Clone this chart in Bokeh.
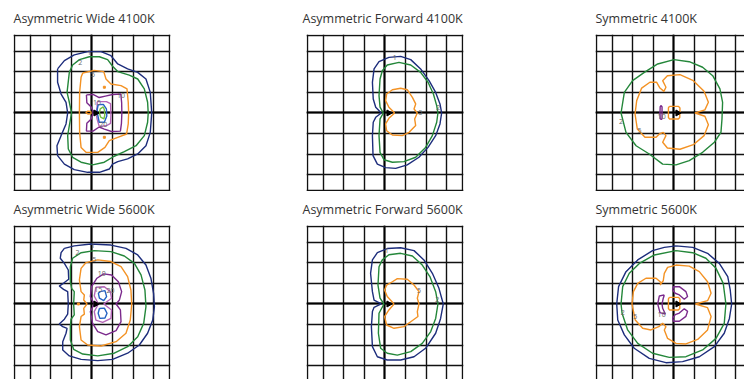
import math
from bokeh.plotting import figure
from bokeh.models import Grid, FixedTicker, Range1d, ColumnDataSource
from bokeh.layouts import column, row
from bokeh.embed import file_html
from bokeh.resources import INLINE
from bokeh.core.properties import value

# ---------------- data (grid-cell units, luminaire at origin) ----------------
TITLES = ["Asymmetric Wide 4100K", "Asymmetric Forward 4100K", "Symmetric 4100K",
          "Asymmetric Wide 5600K", "Asymmetric Forward 5600K", "Symmetric 5600K"]

GRID_TICKS = [-3.75, -3, -2, -1, 0, 1, 2, 3, 3.75]
ARROW_X = [0.18]
ARROW_Y = [0.0]

# Panel 1: Asymmetric Wide 4100K
AW41_L1 = [(-1.67, 2.14), (-1.34, 2.54), (-0.86, 2.82), (-0.21, 2.98), (0.44, 2.98), (0.92, 2.78), (1.25, 2.38),
           (1.73, 2.14), (2.22, 1.97), (2.62, 1.65), (2.83, 1.00), (2.90, 0.0), (2.83, -0.94), (2.62, -1.59),
           (2.22, -1.99), (1.73, -2.23), (1.25, -2.36), (1.00, -2.48), (0.84, -2.72), (0.36, -2.88), (-0.21, -2.88),
           (-0.86, -2.75), (-1.34, -2.48), (-1.67, -2.07), (-1.70, -1.59), (-1.50, -1.10), (-1.26, -0.53),
           (-1.18, 0.0), (-1.26, 0.52), (-1.50, 0.92), (-1.67, 1.49)]
AW41_L2 = [(-1.10, 1.97), (-1.21, 1.00), (-1.10, 0.52), (-0.99, 0.0), (-1.10, -0.61), (-1.18, -1.10), (-1.15, -1.75),
           (-0.94, -2.15), (-0.53, -2.39), (0.03, -2.52), (0.60, -2.39), (1.08, -2.10), (1.57, -1.88), (2.14, -1.59),
           (2.54, -1.10), (2.70, -0.45), (2.73, 0.0), (2.70, 0.52), (2.54, 1.17), (2.22, 1.65), (1.81, 1.84),
           (1.25, 2.01), (1.00, 2.27), (0.76, 2.59), (0.36, 2.73), (-0.13, 2.73), (-0.61, 2.59), (-0.94, 2.33)]
AW41_L5 = [(-0.45, 1.94), (0.11, 2.07), (0.57, 2.01), (0.68, 1.65), (0.92, 1.41), (1.41, 1.33), (1.70, 1.17),
           (1.76, 0.52), (1.78, 0.0), (1.76, -0.53), (1.68, -1.02), (1.25, -1.18), (0.84, -1.34), (0.63, -1.67),
           (0.28, -1.91), (-0.29, -1.91), (-0.53, -1.67), (-0.60, -0.94), (-0.61, 0.0), (-0.60, 1.00), (-0.53, 1.73)]
AW41_L5B = [(-0.05, 0.07), (-0.20, 0.09), (-0.30, 0.02), (-0.20, -0.05), (-0.05, -0.04)]
AW41_L10 = [(-0.27, 0.88), (0.05, 0.90), (0.35, 0.75), (0.65, 0.82), (1.00, 0.90), (1.40, 0.92), (1.44, 0.50),
            (1.45, 0.0), (1.43, -0.50), (1.38, -0.88), (0.95, -0.90), (0.60, -0.78), (0.35, -0.68), (0.05, -0.88),
            (-0.27, -0.88), (-0.25, -0.50), (-0.05, -0.30), (0.05, -0.05), (0.05, 0.10), (-0.05, 0.30), (-0.25, 0.50)]
AW41_L15 = [(0.25, 0.55), (0.70, 0.55), (0.90, 0.45), (0.92, -0.10), (0.90, -0.50), (0.70, -0.62), (0.35, -0.65),
            (0.25, -0.30), (0.20, 0.0), (0.25, 0.30)]
AW41_L20 = [(0.30, 0.40), (0.55, 0.42), (0.70, 0.20), (0.72, -0.15), (0.60, -0.45), (0.35, -0.45), (0.28, -0.10),
            (0.25, 0.15)]
AW41_L30 = [(0.55, 0.30), (0.40, 0.20), (0.36, 0.0), (0.42, -0.20), (0.58, -0.28), (0.62, -0.10), (0.60, 0.15)]
AW41_DOTS_X = [0.60, 0.60]
AW41_DOTS_Y = [1.25, -1.18]
AW41_LABELS = [("1", -0.13, 2.95), ("2", -0.57, 2.46), ("5", 0.05, 1.89), ("10", 1.41, 0.84),
               ("15", 0.24, 0.51), ("20", 0.55, -0.57)]

# Panel 2: Asymmetric Forward 4100K
AF41_L1 = [(-0.18, 0.0), (-0.45, 0.28), (-0.57, 0.68), (-0.61, 1.49), (-0.53, 2.14), (-0.29, 2.49), (0.19, 2.70),
           (0.76, 2.75), (1.25, 2.59), (1.73, 2.14), (2.14, 1.57), (2.46, 1.00), (2.67, 0.44), (2.75, 0.0),
           (2.67, -0.53), (2.46, -1.10), (2.09, -1.67), (1.65, -2.15), (1.08, -2.52), (0.52, -2.69), (0.03, -2.65),
           (-0.37, -2.48), (-0.58, -2.07), (-0.61, -1.10), (-0.57, -0.45), (-0.45, -0.21)]
AF41_L2 = [(-0.08, 0.0), (-0.24, 0.28), (-0.29, 0.84), (-0.24, 1.65), (-0.13, 2.05), (0.11, 2.33), (0.68, 2.46),
           (1.25, 2.33), (1.73, 1.97), (2.09, 1.49), (2.35, 0.92), (2.51, 0.36), (2.57, 0.0), (2.51, -0.45),
           (2.30, -1.10), (1.97, -1.67), (1.49, -2.15), (0.92, -2.36), (0.36, -2.39), (-0.05, -2.27),
           (-0.24, -1.91), (-0.29, -1.10), (-0.24, -0.29)]
AF41_L5 = [(0.47, 0.0), (0.19, 0.28), (0.03, 0.60), (0.08, 0.92), (0.36, 1.13), (0.76, 1.20), (1.08, 1.13),
           (1.33, 0.76), (1.49, 0.44), (1.41, 0.19), (1.57, 0.0), (1.44, -0.29), (1.49, -0.61), (1.17, -0.94),
           (0.84, -1.10), (0.36, -1.07), (0.08, -0.86), (0.03, -0.53), (0.19, -0.26)]
AF41_LABELS = [("1", 0.47, 2.70), ("2", 2.59, 0.28), ("5", 1.73, 0.0)]

# Panel 3: Symmetric 4100K
S41_L2 = [(0.0, 2.59), (0.74, 2.49), (1.39, 2.22), (1.88, 1.81), (2.23, 1.17), (2.36, 0.52), (2.33, -0.29),
          (2.28, -0.94), (1.96, -1.42), (1.39, -1.91), (0.74, -2.31), (0.10, -2.52), (-0.55, -2.48), (-1.20, -1.99),
          (-1.84, -1.59), (-2.33, -0.94), (-2.57, 0.0), (-2.41, 1.00), (-2.01, 1.57), (-1.44, 1.97), (-0.79, 2.38)]
S41_L5 = [(-1.89, -0.05), (-1.81, 0.60), (-1.57, 1.21), (-1.17, 1.49), (-0.84, 1.49), (-0.68, 1.21), (-0.49, 1.05),
          (-0.39, 1.25), (-0.55, 1.57), (-0.32, 1.81), (0.29, 1.86), (0.94, 1.57), (1.46, 1.05), (1.67, 0.52),
          (1.50, 0.15), (1.02, 0.0), (1.50, -0.16), (1.67, -0.57), (1.46, -1.10), (0.94, -1.54), (0.29, -1.76),
          (-0.32, -1.70), (-0.55, -1.42), (-0.39, -1.10), (-0.52, -0.94), (-0.71, -1.02), (-0.87, -1.18),
          (-1.41, -1.18), (-1.78, -0.78)]
S41_L5B = [(-0.22, 0.32), (0.22, 0.32), (0.29, 0.24), (0.28, -0.22), (0.21, -0.29), (-0.22, -0.29), (-0.27, -0.22),
           (-0.27, 0.25)]
S41_L10 = [(-0.62, 0.36), (-0.67, 0.30), (-0.68, 0.0), (-0.67, -0.28), (-0.62, -0.32), (-0.58, -0.28), (-0.58, 0.30)]
S41_LABELS = [("2", -2.57, -0.42), ("5", -1.68, -0.86), ("10", -0.60, -0.18)]

# Panel 4: Asymmetric Wide 5600K
AW56_L1 = [(-1.34, 2.70), (-0.86, 2.82), (-0.05, 2.91), (0.92, 2.86), (1.65, 2.70), (2.22, 2.38), (2.62, 1.89),
           (2.86, 1.25), (2.99, 0.52), (3.03, -0.13), (2.95, -0.78), (2.70, -1.42), (2.30, -1.99), (1.73, -2.39),
           (1.00, -2.69), (0.28, -2.75), (-0.53, -2.69), (-1.10, -2.52), (-1.42, -2.23), (-1.42, -1.83),
           (-1.26, -1.42), (-1.21, -1.18), (-1.42, -1.10), (-1.59, -0.97), (-1.34, -0.74), (-1.18, -0.49),
           (-1.15, 0.0), (-1.18, 0.60), (-1.38, 0.71), (-1.59, 0.87), (-1.34, 1.04), (-1.13, 1.20), (-1.15, 1.65),
           (-1.34, 1.97), (-1.54, 2.22), (-1.50, 2.49)]
AW56_L2 = [(-0.53, 2.49), (0.11, 2.59), (0.92, 2.54), (1.57, 2.33), (2.06, 1.97), (2.38, 1.41), (2.57, 0.68),
           (2.62, -0.13), (2.51, -0.94), (2.22, -1.59), (1.73, -2.07), (1.08, -2.39), (0.28, -2.52), (-0.45, -2.43),
           (-0.89, -2.20), (-1.05, -1.75), (-1.05, -1.10), (-1.02, -0.74), (-0.86, -0.53), (-0.89, 0.0),
           (-0.86, 0.60), (-0.99, 0.76), (-1.05, 1.08), (-1.05, 1.81), (-0.94, 2.22)]
AW56_L5 = [(-0.29, 2.01), (0.28, 2.14), (0.92, 2.06), (1.41, 1.81), (1.73, 1.33), (1.89, 0.68), (1.93, 0.0),
           (1.86, -0.78), (1.65, -1.42), (1.17, -1.83), (0.44, -2.04), (-0.21, -1.99), (-0.53, -1.75),
           (-0.61, -1.10), (-0.53, -0.61), (-0.37, -0.49), (-0.40, -0.21), (-0.24, 0.0), (-0.40, 0.19),
           (-0.37, 0.44), (-0.53, 0.60), (-0.61, 1.17), (-0.53, 1.73)]
AW56_L10 = [(0.11, 0.0), (-0.08, 0.36), (-0.02, 0.84), (0.24, 1.25), (0.57, 1.46), (0.95, 1.41), (1.28, 1.08),
            (1.44, 0.60), (1.33, 0.19), (1.17, 0.0), (1.38, -0.29), (1.41, -0.86), (1.17, -1.29), (0.68, -1.50),
            (0.28, -1.34), (0.03, -0.94), (-0.08, -0.37)]
AW56_L15 = [(0.19, 0.81), (0.60, 0.84), (0.89, 0.60), (0.95, 0.28), (0.57, 0.0), (0.95, -0.29), (0.92, -0.70),
            (0.52, -0.89), (0.19, -0.78), (0.11, -0.37), (0.31, 0.0), (0.11, 0.39)]
AW56_L20A = [(0.40, 0.60), (0.63, 0.65), (0.71, 0.36), (0.57, 0.16), (0.36, 0.28), (0.31, 0.52)]
AW56_L20B = [(0.36, -0.22), (0.60, -0.20), (0.73, -0.45), (0.63, -0.68), (0.38, -0.70), (0.30, -0.45)]
AW56_DOTS_X = [-0.66]
AW56_DOTS_Y = [0.0]
AW56_LABELS = [("1", 0.05, 2.86), ("2", -0.70, 2.52), ("5", 0.11, 2.14), ("10", 0.47, 1.46),
               ("15", 0.31, 0.71), ("20", 0.90, 0.66)]

# Panel 5: Asymmetric Forward 5600K
AF56_L1 = [(-0.18, 0.0), (-0.53, 0.19), (-0.61, 0.60), (-0.70, 1.49), (-0.61, 2.14), (-0.37, 2.49), (0.11, 2.69),
           (0.76, 2.73), (1.41, 2.59), (1.89, 2.14), (2.30, 1.49), (2.62, 0.76), (2.83, 0.0), (2.70, -0.70),
           (2.46, -1.42), (1.97, -2.15), (1.41, -2.56), (0.76, -2.72), (0.11, -2.72), (-0.37, -2.56),
           (-0.61, -2.07), (-0.66, -1.10), (-0.61, -0.37), (-0.53, -0.16)]
AF56_L2 = [(-0.05, 0.0), (-0.24, 0.28), (-0.34, 0.92), (-0.29, 1.81), (-0.13, 2.14), (0.19, 2.39), (0.76, 2.46),
           (1.33, 2.33), (1.81, 1.89), (2.18, 1.33), (2.46, 0.60), (2.57, 0.0), (2.46, -0.70), (2.22, -1.34),
           (1.81, -1.91), (1.25, -2.31), (0.60, -2.48), (0.11, -2.39), (-0.21, -2.15), (-0.32, -1.42),
           (-0.29, -0.45)]
AF56_L5 = [(0.44, 0.0), (0.11, 0.36), (-0.02, 0.68), (0.08, 0.92), (0.36, 1.08), (0.60, 1.23), (1.08, 1.20),
           (1.41, 0.92), (1.65, 0.60), (1.57, 0.28), (1.65, 0.0), (1.57, -0.37), (1.60, -0.61), (1.25, -0.86),
           (0.92, -1.10), (0.44, -1.18), (0.08, -1.02), (-0.02, -0.61), (0.19, -0.29)]
AF56_LABELS = [("1", 0.08, 2.62), ("2", 2.54, 0.23), ("5", 1.65, 0.65)]

# Panel 6: Symmetric 5600K
S56_L1 = [(0.10, 2.82), (0.91, 2.75), (1.63, 2.46), (2.20, 1.97), (2.61, 1.33), (2.73, 0.68), (2.80, 0.0),
          (2.69, -0.70), (2.44, -1.42), (1.96, -2.07), (1.23, -2.56), (0.42, -2.80), (-0.39, -2.85), (-1.20, -2.64),
          (-1.93, -2.15), (-2.41, -1.50), (-2.73, -0.78), (-2.78, 0.0), (-2.69, 0.84), (-2.33, 1.57), (-1.76, 2.14),
          (-1.04, 2.59), (-0.47, 2.75)]
S56_L2 = [(0.10, 2.59), (0.91, 2.49), (1.55, 2.22), (2.04, 1.73), (2.39, 1.00), (2.52, 0.0), (2.44, -0.94),
          (2.04, -1.67), (1.39, -2.23), (0.58, -2.56), (-0.23, -2.59), (-1.04, -2.39), (-1.76, -1.91), (-2.25, -1.26),
          (-2.52, -0.45), (-2.57, 0.0), (-2.49, 0.84), (-2.17, 1.49), (-1.68, 1.97), (-0.95, 2.38)]
S56_L5 = [(-2.04, 0.0), (-1.97, 0.60), (-1.76, 1.00), (-1.36, 1.25), (-0.87, 1.25), (-0.63, 1.04), (-0.68, 0.92),
          (-0.52, 1.13), (-0.47, 1.49), (-0.31, 1.78), (0.10, 1.89), (0.74, 1.84), (1.23, 1.57), (1.63, 1.08),
          (1.80, 0.52), (1.63, 0.16), (1.04, 0.0), (1.63, -0.18), (1.80, -0.61), (1.63, -1.26), (1.15, -1.72),
          (0.58, -1.94), (0.10, -1.91), (-0.31, -1.67), (-0.47, -1.26), (-0.39, -1.10), (-0.55, -0.94),
          (-0.74, -1.10), (-1.12, -1.26), (-1.52, -1.18), (-1.88, -0.78)]
S56_L5B = [(-0.22, 0.32), (0.22, 0.32), (0.29, 0.24), (0.28, -0.22), (0.21, -0.29), (-0.22, -0.29), (-0.27, -0.22),
           (-0.27, 0.25)]
S56_L10A = [(-0.47, 0.44), (-0.71, 0.39), (-0.79, 0.0), (-0.68, -0.42), (-0.42, -0.49), (-0.55, -0.21),
            (-0.58, 0.0), (-0.52, 0.28)]
S56_L10B = [(-0.03, 0.84), (0.26, 0.84), (0.58, 0.60), (0.66, 0.36), (0.50, 0.23), (0.26, 0.44), (0.06, 0.52),
            (-0.06, 0.68)]
S56_L10C = [(-0.03, -0.84), (0.26, -0.84), (0.58, -0.60), (0.66, -0.36), (0.50, -0.23), (0.26, -0.44),
            (0.06, -0.52), (-0.06, -0.68)]
S56_LABELS = [("2", -2.49, -0.42), ("5", -1.88, -0.61), ("10", -0.60, -0.49)]

# ---------------- styling ----------------
COL = {"1": "#1d2d7c", "2": "#24873a", "5": "#f39224", "10": "#7b2a8c",
       "15": "#b566b8", "20": "#2462c2", "30": "#72c043"}

PANELS = [
    dict(title=TITLES[0], lines=[("1", AW41_L1), ("2", AW41_L2), ("5", AW41_L5), ("5", AW41_L5B), ("10", AW41_L10),
                                 ("15", AW41_L15), ("20", AW41_L20), ("30", AW41_L30)],
         dots=(AW41_DOTS_X, AW41_DOTS_Y), labels=AW41_LABELS),
    dict(title=TITLES[1], lines=[("1", AF41_L1), ("2", AF41_L2), ("5", AF41_L5)], dots=None, labels=AF41_LABELS),
    dict(title=TITLES[2], lines=[("2", S41_L2), ("5", S41_L5), ("5", S41_L5B), ("10", S41_L10)], dots=None,
         labels=S41_LABELS),
    dict(title=TITLES[3], lines=[("1", AW56_L1), ("2", AW56_L2), ("5", AW56_L5), ("10", AW56_L10), ("15", AW56_L15),
                                 ("20", AW56_L20A), ("20", AW56_L20B)],
         dots=(AW56_DOTS_X, AW56_DOTS_Y), labels=AW56_LABELS),
    dict(title=TITLES[4], lines=[("1", AF56_L1), ("2", AF56_L2), ("5", AF56_L5)], dots=None, labels=AF56_LABELS),
    dict(title=TITLES[5], lines=[("1", S56_L1), ("2", S56_L2), ("5", S56_L5), ("5", S56_L5B), ("10", S56_L10A),
                                 ("10", S56_L10B), ("10", S56_L10C)], dots=None, labels=S56_LABELS),
]

CELL = 20.6          # px per grid cell
HALF = 3.81          # visible half-extent in cells
FRAME = 157          # full frame size in px
COL_W = [293, 289, 162]
ROW_H = [191, 188]
BORDER_L = 13
BORDER_T = 34
TITLE_OFFSETS = [0, -4, 0]


def make_panel(i):
    r, c = divmod(i, 3)
    spec = PANELS[i]
    w, h = COL_W[c], ROW_H[r]
    fw = min(FRAME, w - BORDER_L)
    fh = min(FRAME, h - BORDER_T)
    x0 = -HALF
    x1 = x0 + fw / CELL
    y1 = HALF
    y0 = y1 - fh / CELL
    p = figure(width=w, height=h, x_range=Range1d(x0, x1), y_range=Range1d(y0, y1),
               x_axis_type=None, y_axis_type=None, toolbar_location=None, output_backend="svg",
               min_border_left=BORDER_L, min_border_right=w - BORDER_L - fw,
               min_border_top=BORDER_T, min_border_bottom=h - BORDER_T - fh,
               outline_line_color=None, background_fill_color="white", border_fill_color="white")
    p.title.text = spec["title"]
    p.title.align = "left"
    p.title.offset = TITLE_OFFSETS[c]
    p.title.text_font = "Open Sans"
    p.title.text_font_size = "12.5px"
    p.title.text_font_style = "normal"
    p.title.text_color = "#333333"
    p.title.standoff = 15

    for dim in (0, 1):
        p.add_layout(Grid(dimension=dim, ticker=FixedTicker(ticks=GRID_TICKS),
                          grid_line_color="#111111", grid_line_width=1.4))
        p.add_layout(Grid(dimension=dim, ticker=FixedTicker(ticks=[0]),
                          grid_line_color="#000000", grid_line_width=2.0))

    xs, ys, cs = [], [], []
    for lvl, pts in spec["lines"]:
        xs.append([q[0] for q in pts] + [pts[0][0]])
        ys.append([q[1] for q in pts] + [pts[0][1]])
        cs.append(COL[lvl])
    src = ColumnDataSource(dict(xs=xs, ys=ys, c=cs))
    p.multi_line(xs="xs", ys="ys", line_color="c", line_width=1.4, source=src)

    if spec["dots"]:
        p.scatter(spec["dots"][0], spec["dots"][1], marker="square", size=2, color=COL["5"])

    lab = spec["labels"]
    p.text([l[1] for l in lab], [l[2] for l in lab], text=[l[0] for l in lab],
           text_font=value("Open Sans"), text_font_size="7px", text_color="#666666",
           text_align="center", text_baseline="middle")

    p.scatter(ARROW_X, ARROW_Y, marker="triangle", size=6, angle=-math.pi / 2, color="black")
    return p


panels = [make_panel(i) for i in range(6)]
layout = column(row(*panels[:3]), row(*panels[3:]))

with open("out.html", "w") as f:
    f.write(file_html(layout, INLINE))
